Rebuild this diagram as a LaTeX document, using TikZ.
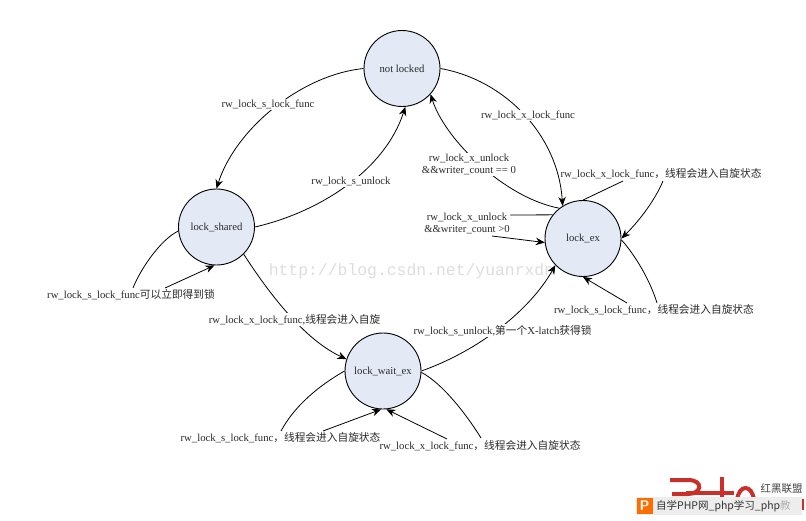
\documentclass[tikz,border=0pt]{standalone}
\usepackage{fontspec}
\setmainfont{Liberation Serif}
\setmonofont{Liberation Mono}
\newfontfamily\cjk{Noto Sans CJK SC}
\usetikzlibrary{arrows.meta}
\definecolor{statefill}{HTML}{E3EAF5}
\definecolor{ink}{HTML}{2A2A2A}
\definecolor{logored}{HTML}{C9302A}
\tikzset{
  state/.style={circle,draw=black,line width=0.9pt,fill=statefill,minimum size=76pt,inner sep=0pt,text=ink,font=\fontsize{10.7}{12.8}\selectfont},
  lbl/.style={inner sep=1pt,text=ink,font=\fontsize{10.7}{12.8}\selectfont,align=center},
  onedge/.style={lbl,fill=white},
  line/.style={draw=black,line width=0.8pt},
  arr/.style={line,-{Stealth[length=9pt,width=7.5pt]}},
}
\begin{document}
\begin{tikzpicture}[x=1pt,y=-1pt]
\useasboundingbox (0,0) rectangle (806,520);
\fill[white] (0,0) rectangle (806,520);
% watermark
\node[anchor=center,text=black!13,font=\ttfamily\fontsize{16.4}{20}\selectfont,inner sep=0pt] (wm) at (411.5,271) {http://blog.csdn.net/yuanrxdn};
% states
\node[state] (nl) at (402,68.5) {not locked};
\node[state] (sh) at (216.5,227) {lock\_shared};
\node[state] (ex) at (583,238.5) {lock\_ex};
\node[state] (wt) at (383,371) {lock\_wait\_ex};
% arcs between states (labels are drawn over them)
\draw[arr] (nl.180) .. controls (300,75) and (235,130) .. (sh.90);
\draw[arr] (nl.0) .. controls (505,80) and (558,135) .. (ex.122);
\draw[arr] (sh.0) .. controls (320,212) and (385,170) .. (nl.-85);
\draw[arr] (ex.128) .. controls (505,198) and (445,140) .. (nl.-42);
\draw[arr] (sh.-45) .. controls (270,295) and (305,340) .. (wt.162);
\draw[arr] (wt.0) .. controls (480,350) and (530,310) .. (ex.-136);
% labels
\node[onedge] (a) at (268,104.5) {rw\_lock\_s\_lock\_func};
\node[onedge] (b) at (528,115.5) {rw\_lock\_x\_lock\_func};
\node[onedge] (c) at (351,181.5) {rw\_lock\_s\_unlock};
\node[onedge] (d) at (469,164.5) {rw\_lock\_x\_unlock\\\&\&writer\_count == 0};
\node[lbl] (e) at (467,223.5) {rw\_lock\_x\_unlock\\\&\&writer\_count >0};
\node[lbl] (f) at (661,173.5) {rw\_lock\_x\_lock\_func{\cjk ，线程会进入自旋状态}};
\node[lbl] (g) at (654,309.5) {rw\_lock\_s\_lock\_func{\cjk ，线程会进入自旋状态}};
\node[lbl] (h) at (131,294.5) {rw\_lock\_s\_lock\_func{\cjk 可以立即得到锁}};
\node[onedge] (i) at (294.5,319.5) {rw\_lock\_x\_lock\_func,{\cjk 线程会进入自旋}};
\node[onedge] (j) at (502.5,330.5) {rw\_lock\_s\_unlock,{\cjk 第一个}X-latch{\cjk 获得锁}};
\node[lbl] (k) at (280.5,437.5) {rw\_lock\_s\_lock\_func{\cjk ，线程会进入自旋状态}};
\node[lbl] (l) at (480,445.5) {rw\_lock\_x\_lock\_func{\cjk ，线程会进入自旋状态}};
% self loops, out to the label and back
\draw[line] (ex.142) -- (510,215);
\draw[arr] (492,236) -- (ex.186);
\draw[line] (ex.90) -- (623,181);
\draw[arr] (663,181) .. controls (655,200) and (640,220) .. (ex.0);
\draw[line] (ex.-2) .. controls (635,255) and (650,280) .. (657,303);
\draw[arr] (627,303) -- (ex.-90);
\draw[line] (sh.186) .. controls (160,240) and (140,270) .. (133,288);
\draw[arr] (165,288) -- (sh.-93);
\draw[line] (wt.180) .. controls (320,385) and (295,405) .. (281,431);
\draw[arr] (323,431) -- (wt.-93);
\draw[line] (wt.-2) .. controls (445,385) and (470,420) .. (481,438);
\draw[arr] (447,439) -- (wt.-85);
% logo
\begin{scope}
\clip (660,470) rectangle (806,497);
\draw[logored,line width=4pt] (670,480) -- (688,480) .. controls (704,480) and (702,494) .. (688,494) -- (672,494);
\draw[logored,line width=4pt] (722,477) -- (722,500);
\draw[logored,line width=4pt] (686,493) -- (734,493);
\draw[logored,line width=4pt] (737,500) .. controls (739,484) and (752,484) .. (754,500);
\end{scope}
\node[inner sep=0pt,text=black!75,font=\cjk\fontsize{10.5}{12}\selectfont] (logotext) at (781.5,489) {红黑联盟};
\fill[black!7] (636,497) rectangle (802,515);
\fill[logored] (802,499) rectangle (803.5,510);
\node[fill=orange!85!red,text=white,minimum size=16pt,inner sep=0pt,font=\sffamily\bfseries\fontsize{14}{14}\selectfont] (logop) at (644.5,506) {P};
\node[anchor=west,inner sep=0pt,text=black!80,font=\cjk\fontsize{10.5}{13}\selectfont] (logobar) at (656,506) {自学PHP网\_php学习\_php{\color{black!30}教}};
\end{tikzpicture}
\end{document}
